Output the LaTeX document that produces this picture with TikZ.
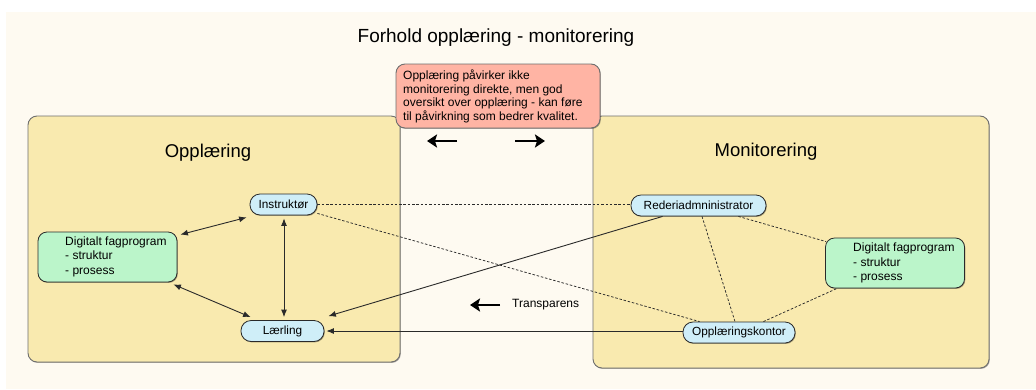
\documentclass[tikz,border=0pt]{standalone}
\usepackage{fontspec}
\setmainfont{Liberation Sans}
\usetikzlibrary{arrows.meta,shadows}
\definecolor{cream}{HTML}{FEFAF1}
\definecolor{ybox}{HTML}{F9EAAF}
\definecolor{gbox}{HTML}{BBF5CA}
\definecolor{bbox}{HTML}{CFEEF8}
\definecolor{rbox}{HTML}{FFB4A4}
\definecolor{edge}{HTML}{6E6E6E}
\definecolor{lnk}{HTML}{2A2A2A}
\tikzset{
  boxshadow/.style={drop shadow={shadow xshift=0.8pt,shadow yshift=-0.9pt,fill=black,opacity=0.35}},
  area/.style={draw=edge,line width=0.9pt,fill=ybox,rounded corners=9pt,boxshadow},
  pill/.style={draw=lnk,line width=0.8pt,fill=bbox,rounded corners=10pt,minimum height=21pt,inner sep=0pt,boxshadow,font=\fontsize{11.8}{13}\selectfont},
  dfbox/.style={draw=lnk,line width=0.8pt,fill=gbox,rounded corners=9pt,minimum width=139pt,minimum height=50pt,inner sep=0pt,boxshadow},
  dftext/.style={align=left,inner sep=0pt,anchor=west,font=\fontsize{12}{14.5}\selectfont},
  dashlink/.style={draw=lnk,line width=0.75pt,dash pattern=on 2.5pt off 1.8pt},
  solidlink/.style={draw=lnk,line width=0.9pt},
  arrowone/.style={-{Latex[length=7.5pt,width=6pt]}},
  arrowboth/.style={{Latex[length=7.5pt,width=6pt]}-{Latex[length=7.5pt,width=6pt]}},
  bigarrow/.style={draw=black,line width=2.8pt,-{Stealth[length=10pt,width=13pt,inset=2pt]}}
}
\begin{document}
\begin{tikzpicture}[x=1pt,y=-1pt]
\useasboundingbox (0,0) rectangle (1036,389);
\fill[white] (0,0) rectangle (1036,389);
\fill[cream] (6,12) rectangle (1036,389);
% areas
\path[area] (28,116) rectangle (400,362);
\path[area] (593,116) rectangle (989,368);
% title
\node (title) at (496,38) {\fontsize{19}{22}\selectfont Forhold opplæring - monitorering};
\node (opl) at (208,153) {\fontsize{18.5}{22}\selectfont Opplæring};
\node (mon) at (766,152) {\fontsize{18.5}{22}\selectfont Monitorering};
% red note
\node[draw=edge,line width=0.9pt,fill=rbox,rounded corners=9pt,minimum width=204pt,minimum height=64pt,inner sep=0pt,boxshadow] (note) at (498,96) {};
\node[align=left,inner sep=0pt,anchor=west,font=\fontsize{12}{13.7}\selectfont] (notetext) at (403,96.5)
  {Opplæring påvirker ikke\\monitorering direkte, men god\\oversikt over opplæring - kan føre\\til påvirkning som bedrer kvalitet.};
% big arrows
\coordinate (la1) at (457,141); \coordinate (la2) at (427,141);
\coordinate (ra1) at (515,141); \coordinate (ra2) at (545,141);
\draw[bigarrow] (la1) -- (la2);
\draw[bigarrow] (ra1) -- (ra2);
% nodes left
\node[pill,minimum width=67pt] (instr) at (283.5,204.5) {Instruktør};
\node[pill,minimum width=83pt] (laer) at (282.5,331) {Lærling};
\node[dfbox] (dfl) at (107.5,257) {};
\node[dftext] (dflt) at (65,256.5) {Digitalt fagprogram\\- struktur\\- prosess};
% nodes right
\node[pill,minimum width=135pt] (rederi) at (698.5,205.5) {Rederiadmninistrator};
\node[pill,minimum width=112pt] (opk) at (739,332.5) {Opplæringskontor};
\node[dfbox] (dfr) at (895,263) {};
\node[dftext] (dfrt) at (853,263) {Digitalt fagprogram\\- struktur\\- prosess};
% transparens
\coordinate (ta1) at (500,305); \coordinate (ta2) at (470,305);
\draw[bigarrow] (ta1) -- (ta2);
\node[anchor=west,inner sep=0pt,font=\fontsize{12}{14}\selectfont] (transp) at (512,305) {Transparens};
% dashed links
\draw[dashlink] (instr.east) -- (rederi.west |- instr.east);
\draw[dashlink] ([shift={(0,-2)}]instr.south east) -- ([shift={(17,0)}]opk.north west);
\draw[dashlink] ([shift={(3.5,0)}]rederi.south) -- ([shift={(-4,0)}]opk.north);
\draw[dashlink] ([shift={(-28,0)}]rederi.south east) -- ([shift={(1,4)}]dfr.north west);
\draw[dashlink] ([shift={(-32,0)}]opk.north east) -- ([shift={(12,0)}]dfr.south west);
% solid links
\draw[solidlink,arrowboth] ([shift={(3,3)}]dfl.north east) -- ([shift={(-3,2)}]instr.south west);
\draw[solidlink,arrowboth] ([shift={(-4,2)}]dfl.south east) -- ([shift={(10,-3)}]laer.north west);
\draw[solidlink,arrowboth] ([shift={(0.5,3)}]instr.south) -- ([shift={(1.5,-3)}]laer.north);
\draw[solidlink,arrowone] ([shift={(32,0)}]rederi.south west) -- ([shift={(4,-4)}]laer.north east);
\draw[solidlink,arrowone] (opk.west |- laer.east) -- ([shift={(2,0)}]laer.east);
\end{tikzpicture}
\end{document}
